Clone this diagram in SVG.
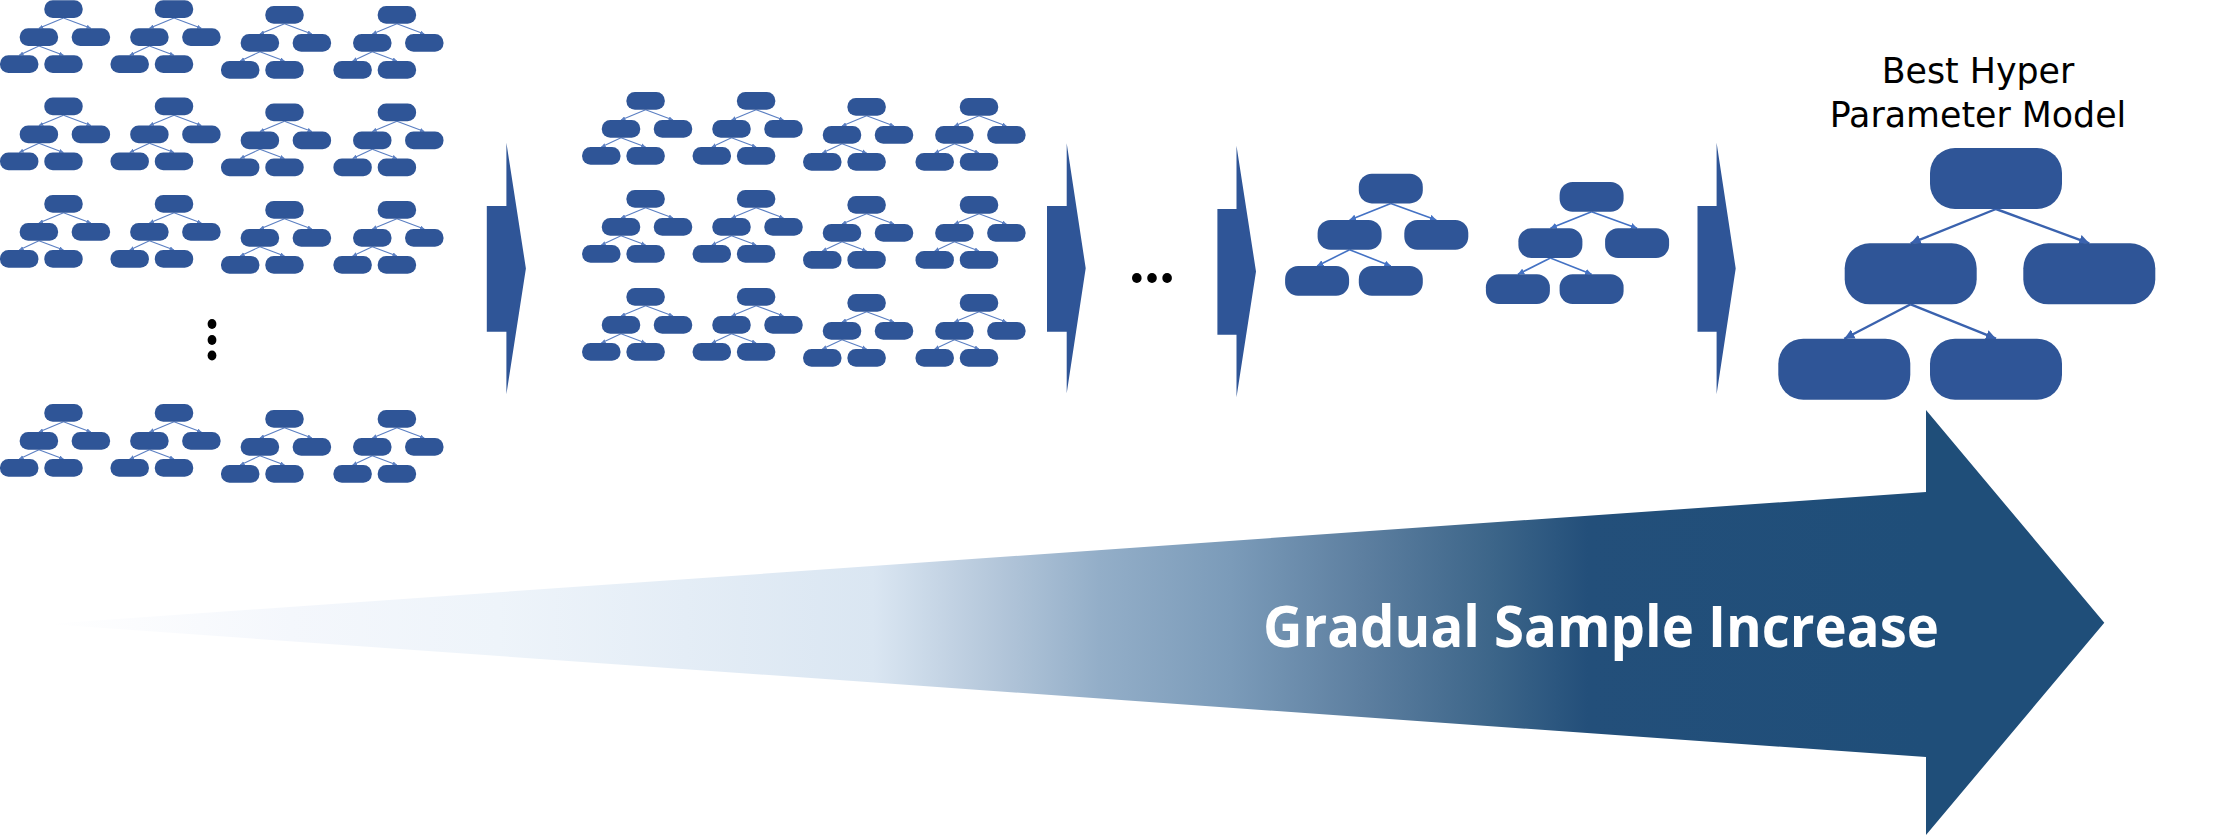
<svg xmlns="http://www.w3.org/2000/svg" xmlns:xlink="http://www.w3.org/1999/xlink" width="2217" height="836" viewBox="0 0 2217 836">
<style>
.pill{fill:#2F5597;}
.chev{fill:#2F5597;}
.lnS{stroke:#5B7FC2;stroke-width:1.1;fill:none;}
.lnM{stroke:#4472C4;stroke-width:1.6;fill:none;}
.lnL{stroke:#3A62AE;stroke-width:2.4;fill:none;}
.dot{fill:#000000;}
.title{font-family:"DejaVu Sans","Noto Sans",sans-serif;font-size:34.8px;fill:#000000;text-anchor:middle;}
.big{font-family:"Open Sans","Noto Sans","Liberation Sans",sans-serif;font-weight:bold;font-size:58px;fill:#FFFFFF;}
</style>
<defs>
<marker id="ahS" viewBox="0 0 10 10" refX="10" refY="5" markerWidth="4" markerHeight="4" orient="auto"><path d="M0,0 L10,5 L0,10 z" fill="#5B7FC2"/></marker>
<marker id="ahM" viewBox="0 0 10 10" refX="10" refY="5" markerWidth="4" markerHeight="4" orient="auto"><path d="M0,0 L10,5 L0,10 z" fill="#4472C4"/></marker>
<marker id="ahL" viewBox="0 0 10 10" refX="10" refY="5" markerWidth="4.2" markerHeight="4.2" orient="auto"><path d="M0,0 L10,5 L0,10 z" fill="#3A62AE"/></marker>
<linearGradient id="grad" gradientUnits="userSpaceOnUse" x1="47" y1="0" x2="1926" y2="0">
<stop offset="0" stop-color="#FFFFFF"/>
<stop offset="0.13" stop-color="#F4F7FC"/>
<stop offset="0.24" stop-color="#EEF4FA"/>
<stop offset="0.44" stop-color="#DAE6F2"/>
<stop offset="0.50" stop-color="#B7C9DC"/>
<stop offset="0.56" stop-color="#93AEC8"/>
<stop offset="0.63" stop-color="#7B9BB9"/>
<stop offset="0.70" stop-color="#5D7FA0"/>
<stop offset="0.77" stop-color="#3C6589"/>
<stop offset="0.82" stop-color="#234F7A"/>
<stop offset="1" stop-color="#1F4E79"/>
</linearGradient>
<g id="treeS">
<g class="edges">
<line class="lnS" x1="63.5" y1="17.7" x2="38.9" y2="28" marker-end="url(#ahS)"/>
<line class="lnS" x1="63.5" y1="17.7" x2="90.9" y2="28" marker-end="url(#ahS)"/>
<line class="lnS" x1="38.9" y1="45.7" x2="19.2" y2="55" marker-end="url(#ahS)"/>
<line class="lnS" x1="38.9" y1="45.7" x2="63.5" y2="55" marker-end="url(#ahS)"/>
</g>
<rect class="pill" x="44.3" y="0" width="38.4" height="17.7" rx="8.5"/>
<rect class="pill" x="19.7" y="28" width="38.4" height="17.7" rx="8.5"/>
<rect class="pill" x="71.7" y="28" width="38.4" height="17.7" rx="8.5"/>
<rect class="pill" x="0" y="55" width="38.4" height="17.7" rx="8.5"/>
<rect class="pill" x="44.3" y="55" width="38.4" height="17.7" rx="8.5"/>
</g>
<g id="treeM">
<g class="edges">
<line class="lnM" x1="105.7" y1="29.7" x2="64.5" y2="46.3" marker-end="url(#ahM)"/>
<line class="lnM" x1="105.7" y1="29.7" x2="151.2" y2="46.3" marker-end="url(#ahM)"/>
<line class="lnM" x1="64.5" y1="76" x2="32" y2="92.3" marker-end="url(#ahM)"/>
<line class="lnM" x1="64.5" y1="76" x2="105.7" y2="92.3" marker-end="url(#ahM)"/>
</g>
<rect class="pill" x="73.7" y="0" width="64" height="29.7" rx="13"/>
<rect class="pill" x="32.5" y="46.3" width="64" height="29.7" rx="13"/>
<rect class="pill" x="119.2" y="46.3" width="64" height="29.7" rx="13"/>
<rect class="pill" x="0" y="92.3" width="64" height="29.7" rx="13"/>
<rect class="pill" x="73.7" y="92.3" width="64" height="29.7" rx="13"/>
</g>
</defs>

<rect x="0" y="0" width="2217" height="836" fill="#FFFFFF"/>

<g id="gradual-arrow">
<path d="M47,624 L1926,492 L1926,410 L2104.3,622.7 L1926,835 L1926,757 Z" fill="url(#grad)"/>
<text class="big" x="1263" y="647" textLength="676" lengthAdjust="spacingAndGlyphs">Gradual Sample Increase</text>
</g>

<g id="stage1">
<g id="s1-r1c1"><use href="#treeS" x="0" y="0.3"/></g>
<g id="s1-r1c2"><use href="#treeS" x="110.5" y="0.3"/></g>
<g id="s1-r1c3"><use href="#treeS" x="221" y="6"/></g>
<g id="s1-r1c4"><use href="#treeS" x="333.4" y="6"/></g>
<g id="s1-r2c1"><use href="#treeS" x="0" y="97.5"/></g>
<g id="s1-r2c2"><use href="#treeS" x="110.5" y="97.5"/></g>
<g id="s1-r2c3"><use href="#treeS" x="221" y="103.5"/></g>
<g id="s1-r2c4"><use href="#treeS" x="333.4" y="103.5"/></g>
<g id="s1-r3c1"><use href="#treeS" x="0" y="195"/></g>
<g id="s1-r3c2"><use href="#treeS" x="110.5" y="195"/></g>
<g id="s1-r3c3"><use href="#treeS" x="221" y="201"/></g>
<g id="s1-r3c4"><use href="#treeS" x="333.4" y="201"/></g>
<g id="s1-vdots">
<ellipse class="dot" cx="212" cy="324" rx="4.4" ry="4.9"/>
<ellipse class="dot" cx="212" cy="340" rx="4.4" ry="4.9"/>
<ellipse class="dot" cx="212" cy="355.5" rx="4.4" ry="4.9"/>
</g>
<g id="s1-r4c1"><use href="#treeS" x="0" y="404"/></g>
<g id="s1-r4c2"><use href="#treeS" x="110.5" y="404"/></g>
<g id="s1-r4c3"><use href="#treeS" x="221" y="410"/></g>
<g id="s1-r4c4"><use href="#treeS" x="333.4" y="410"/></g>
</g>

<g id="stage2">
<g id="s2-r1c1"><use href="#treeS" x="582.1" y="92"/></g>
<g id="s2-r1c2"><use href="#treeS" x="692.6" y="92"/></g>
<g id="s2-r1c3"><use href="#treeS" x="803.1" y="98"/></g>
<g id="s2-r1c4"><use href="#treeS" x="915.5" y="98"/></g>
<g id="s2-r2c1"><use href="#treeS" x="582.1" y="190"/></g>
<g id="s2-r2c2"><use href="#treeS" x="692.6" y="190"/></g>
<g id="s2-r2c3"><use href="#treeS" x="803.1" y="196"/></g>
<g id="s2-r2c4"><use href="#treeS" x="915.5" y="196"/></g>
<g id="s2-r3c1"><use href="#treeS" x="582.1" y="288"/></g>
<g id="s2-r3c2"><use href="#treeS" x="692.6" y="288"/></g>
<g id="s2-r3c3"><use href="#treeS" x="803.1" y="294"/></g>
<g id="s2-r3c4"><use href="#treeS" x="915.5" y="294"/></g>
</g>

<g id="hdots">
<ellipse class="dot" cx="1136.8" cy="278" rx="4.8" ry="5"/>
<ellipse class="dot" cx="1152" cy="278" rx="4.8" ry="5"/>
<ellipse class="dot" cx="1167.1" cy="278" rx="4.8" ry="5"/>
</g>

<g id="stage3">
<g id="s3-tree1"><use href="#treeM" x="1285.1" y="173.7"/></g>
<g id="s3-tree2"><use href="#treeM" x="1485.9" y="182"/></g>
</g>

<g id="chevrons">
<g id="chev1"><polygon class="chev" points="486.8,206 506.4,206 506.4,142.7 525.9,268.5 506.4,394.3 506.4,331.7 486.8,331.7"/></g>
<g id="chev2"><polygon class="chev" points="1047,206 1066.7,206 1066.7,143.3 1085.7,268.3 1066.7,393.3 1066.7,331.7 1047,331.7"/></g>
<g id="chev3"><polygon class="chev" points="1217.4,209 1236.5,209 1236.5,145.7 1256,271.5 1236.5,397.3 1236.5,334.7 1217.4,334.7"/></g>
<g id="chev4"><polygon class="chev" points="1697.5,206 1716.6,206 1716.6,142.7 1735.7,268.5 1716.6,394.3 1716.6,331.7 1697.5,331.7"/></g>
</g>

<g id="best-title">
<text class="title" x="1978" y="82.7">Best Hyper</text>
<text class="title" x="1978" y="127.3">Parameter Model</text>
</g>

<g id="best-connectors">
<line class="lnL" x1="1996" y1="209" x2="1910.7" y2="243.3" marker-end="url(#ahL)"/>
<line class="lnL" x1="1996" y1="209" x2="2089.3" y2="243.3" marker-end="url(#ahL)"/>
<line class="lnL" x1="1910.7" y1="304.3" x2="1844.3" y2="338.7" marker-end="url(#ahL)"/>
<line class="lnL" x1="1910.7" y1="304.3" x2="1996" y2="338.7" marker-end="url(#ahL)"/>
</g>
<g id="best-root"><rect class="pill" x="1930" y="148" width="132" height="61" rx="25"/></g>
<g id="best-l2-left"><rect class="pill" x="1844.7" y="243.3" width="132" height="61" rx="25"/></g>
<g id="best-l2-right"><rect class="pill" x="2023.3" y="243.3" width="132" height="61" rx="25"/></g>
<g id="best-l3-left"><rect class="pill" x="1778.3" y="338.7" width="132" height="61" rx="25"/></g>
<g id="best-l3-right"><rect class="pill" x="1930" y="338.7" width="132" height="61" rx="25"/></g>
</svg>
